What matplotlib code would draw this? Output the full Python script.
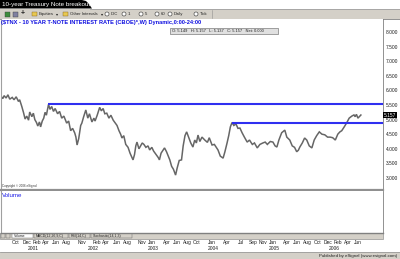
import matplotlib
matplotlib.use('Agg')
import matplotlib.pyplot as plt
import matplotlib.dates as mdates
from matplotlib.patches import Rectangle, Polygon, Circle
from matplotlib.transforms import blended_transform_factory
import pandas as pd

plt.rcParams['font.family'] = ['Liberation Sans', 'DejaVu Sans']

W, H = 400, 259

title = '10-year Treasury Note breakout'
symbol_line = '($TNX - 10 YEAR T-NOTE INTEREST RATE (CBOE)*,W) Dynamic,0:00-24:00'
ohlc_text = 'O: 5.149   H: 5.157   L: 5.137   C: 5.157   Net: 0.000'
last_value = 5.157

# weekly closes (approx.)
dates = ['2000-07-25', '2000-08-05', '2000-08-13', '2000-08-25', '2000-09-05', '2000-09-16',
         '2000-10-01', '2000-10-12', '2000-10-25', '2000-11-08', '2000-11-15', '2000-11-28',
         '2000-12-08', '2000-12-18', '2000-12-28', '2001-01-08', '2001-01-15', '2001-01-28',
         '2001-02-06', '2001-02-15', '2001-02-25', '2001-03-05', '2001-03-15', '2001-03-22',
         '2001-04-01', '2001-04-10', '2001-04-18', '2001-04-26', '2001-05-09', '2001-05-18',
         '2001-05-28', '2001-06-08', '2001-06-18', '2001-07-03', '2001-07-15', '2001-07-28',
         '2001-08-10', '2001-08-27', '2001-09-08', '2001-09-20', '2001-10-02', '2001-10-15',
         '2001-10-22', '2001-10-29', '2001-11-08', '2001-11-20', '2001-11-27', '2001-12-08',
         '2001-12-21', '2002-01-02', '2002-01-12', '2002-01-27', '2002-02-08', '2002-02-15',
         '2002-02-28', '2002-03-15', '2002-03-25', '2002-04-05', '2002-04-15', '2002-04-27',
         '2002-05-10', '2002-05-22', '2002-06-05', '2002-06-15', '2002-06-28', '2002-07-10',
         '2002-07-20', '2002-07-28', '2002-08-08', '2002-08-20', '2002-09-03', '2002-09-15',
         '2002-09-25', '2002-10-03', '2002-10-12', '2002-10-20', '2002-10-27', '2002-11-08',
         '2002-11-18', '2002-11-28', '2002-12-08', '2002-12-20', '2003-01-02', '2003-01-12',
         '2003-01-25', '2003-02-05', '2003-02-20', '2003-03-05', '2003-03-12', '2003-03-22',
         '2003-04-03', '2003-04-12', '2003-04-24', '2003-05-05', '2003-05-14', '2003-05-25',
         '2003-06-05', '2003-06-18', '2003-06-28', '2003-07-10', '2003-07-24', '2003-08-03',
         '2003-08-14', '2003-08-24', '2003-09-05', '2003-09-18', '2003-10-01', '2003-10-12',
         '2003-10-22', '2003-11-01', '2003-11-12', '2003-11-25', '2003-12-12', '2003-12-28',
         '2004-01-08', '2004-01-25', '2004-02-08', '2004-02-20', '2004-03-01', '2004-03-15',
         '2004-04-01', '2004-04-12', '2004-04-25', '2004-05-05', '2004-05-15', '2004-05-25',
         '2004-06-05', '2004-06-18', '2004-06-30', '2004-07-12', '2004-07-25', '2004-08-08',
         '2004-08-25', '2004-09-08', '2004-09-25', '2004-10-08', '2004-10-25', '2004-11-10',
         '2004-11-28', '2004-12-12', '2004-12-25', '2005-01-12', '2005-01-28', '2005-02-10',
         '2005-02-21', '2005-03-05', '2005-03-22', '2005-04-10', '2005-04-22', '2005-05-10',
         '2005-05-25', '2005-06-08', '2005-06-21', '2005-07-01', '2005-07-10', '2005-07-25',
         '2005-08-08', '2005-08-21', '2005-09-05', '2005-09-21', '2005-10-05', '2005-10-20',
         '2005-11-05', '2005-11-21', '2005-12-08', '2005-12-25', '2006-01-10', '2006-01-25',
         '2006-02-10', '2006-02-25', '2006-03-10', '2006-03-21', '2006-04-05', '2006-04-21',
         '2006-05-05', '2006-05-21', '2006-06-03', '2006-06-10', '2006-06-18', '2006-06-27',
         '2006-07-05', '2006-07-15']
rates = [5.80, 5.72, 5.82, 5.74, 5.85, 5.70,
         5.76, 5.68, 5.78, 5.62, 5.68, 5.45,
         5.25, 5.02, 5.12, 4.98, 5.26, 5.10,
         5.22, 5.00, 4.90, 4.78, 4.92, 4.75,
         4.95, 5.05, 5.25, 5.15, 5.52, 5.35,
         5.45, 5.28, 5.38, 5.20, 5.28, 5.05,
         5.12, 4.88, 4.95, 4.62, 4.70, 4.54,
         4.40, 4.13, 4.35, 4.80, 4.88, 5.10,
         5.33, 5.05, 5.20, 4.92, 5.05, 4.95,
         5.15, 5.42, 5.30, 5.38, 5.20, 5.22,
         5.05, 5.15, 4.98, 4.90, 4.80, 4.62,
         4.50, 4.37, 4.45, 4.15, 4.05, 3.85,
         3.72, 3.62, 3.80, 4.10, 4.23, 4.00,
         4.10, 4.20, 4.15, 4.05, 4.10, 3.96,
         4.05, 3.92, 3.80, 3.70, 3.62, 3.85,
         3.95, 4.03, 3.90, 3.75, 3.62, 3.40,
         3.30, 3.10, 3.35, 3.60, 3.62, 4.10,
         4.45, 4.58, 4.40, 4.20, 4.06, 4.30,
         4.20, 4.47, 4.25, 4.40, 4.30, 4.22,
         4.38, 4.13, 4.15, 4.05, 3.96, 3.75,
         3.68, 3.90, 4.20, 4.45, 4.75, 4.90,
         4.80, 4.85, 4.70, 4.71, 4.55, 4.40,
         4.23, 4.30, 4.15, 4.20, 4.03, 4.15,
         4.20, 4.23, 4.15, 4.25, 4.23, 4.10,
         4.06, 4.30, 4.55, 4.64, 4.40, 4.30,
         4.10, 4.05, 3.90, 3.95, 4.06, 4.20,
         4.37, 4.30, 4.10, 4.03, 4.30, 4.45,
         4.58, 4.50, 4.48, 4.40, 4.40, 4.38,
         4.30, 4.50, 4.58, 4.62, 4.75, 4.90,
         5.05, 5.12, 5.16, 5.10, 5.18, 5.05,
         5.10, 5.157]

upper_start = '2001-05-05'
upper_level = 5.52
lower_start = '2004-05-22'
lower_level = 4.90

x_left = '2000-07-25'
x_right = '2006-11-26'

month_ticks = ['2000-10-01', '2000-12-01', '2001-02-01', '2001-04-01', '2001-06-01', '2001-08-01',
               '2001-11-01', '2002-02-01', '2002-04-01', '2002-06-01', '2002-08-01', '2002-11-01',
               '2003-01-01', '2003-04-01', '2003-06-01', '2003-08-01', '2003-10-01', '2004-01-01',
               '2004-04-01', '2004-07-01', '2004-09-01', '2004-11-01', '2005-01-01', '2005-04-01',
               '2005-06-01', '2005-08-01', '2005-10-01', '2005-12-01', '2006-02-01', '2006-04-01',
               '2006-06-01']
month_labels = ['Oct', 'Dec', 'Feb', 'Apr', 'Jun', 'Aug', 'Nov', 'Feb', 'Apr', 'Jun', 'Aug', 'Nov',
                'Jan', 'Apr', 'Jun', 'Aug', 'Oct', 'Jan', 'Apr', 'Jul', 'Sep', 'Nov', 'Jan', 'Apr',
                'Jun', 'Aug', 'Oct', 'Dec', 'Feb', 'Apr', 'Jun']
year_ticks = ['2001-01-01', '2002-01-01', '2003-01-01', '2004-01-01', '2005-01-01', '2006-01-01']
year_labels = ['2001', '2002', '2003', '2004', '2005', '2006']
y_ticks = [3.0, 3.5, 4.0, 4.5, 5.0, 5.5, 6.0, 6.5, 7.0, 7.5, 8.0]
panel_tabs = ['Volume', 'MACD(12,26,9,C)', 'RSI(14,C)', 'Stochastic(14,1,3)']

UI_GREY = '#d4d0c8'
BLUE = '#2f2ff0'


def fr(x0, y0, x1, y1):
    return [x0 / W, 1 - y1 / H, (x1 - x0) / W, (y1 - y0) / H]


def pixel_axes(z):
    a = fig.add_axes([0, 0, 1, 1], zorder=z)
    a.set_xlim(0, W)
    a.set_ylim(H, 0)
    a.axis('off')
    a.patch.set_alpha(0)
    return a


fig = plt.figure(figsize=(4, 2.59), dpi=100)
fig.patch.set_facecolor('white')

# window chrome drawn in pixel coords
ui = pixel_axes(0)

ui.add_patch(Polygon([(0, 0), (82, 0), (86, 1), (89, 4), (92, 8.5), (0, 8.5)], closed=True,
                     facecolor='black', edgecolor='none'))
ui.text(1.5, 4.5, title, color='white', fontsize=4.5, va='center', ha='left')
ui.plot([90, 400], [8.5, 8.5], color='#a0a0a0', lw=0.6)
ui.add_patch(Rectangle((0, 9), 400, 9.5, facecolor=UI_GREY, edgecolor='none'))
ui.plot([0, 400], [18.5, 18.5], color='#808080', lw=0.6)

# toolbar
ui.add_patch(Rectangle((5, 11.5), 5, 5, facecolor='#3c8c3c', edgecolor='#404040', lw=0.3))
ui.add_patch(Rectangle((13, 11.5), 5, 5, facecolor='#8080a0', edgecolor='#404040', lw=0.3))
ui.text(23, 14, '+', fontsize=5, va='center', ha='center', color='#202020', weight='bold')
for fx, lab, arrow in [(32, 'Equities', 57), (63, 'Other Intervals', 102)]:
    ui.add_patch(Rectangle((fx, 12), 5, 4, facecolor='#e8c850', edgecolor='#806020', lw=0.3))
    ui.text(fx + 7, 14.2, lab, fontsize=3.1, va='center', ha='left', color='#202020')
    ui.text(arrow, 14.2, '\u25be', fontsize=3.0, va='center', ha='center', color='#202020')
for cx, lab in [(107, 'IDC'), (124, '1'), (141, '5'), (157, '60'), (170, 'Daily'), (196, 'Tick')]:
    ui.add_patch(Circle((cx, 14), 2.0, facecolor='white', edgecolor='#303030', lw=0.4))
    ui.text(cx + 4, 14.2, lab, fontsize=3.1, va='center', ha='left', color='#202020')
ui.plot([212, 212], [10, 18], color='#909090', lw=0.4)

# tabs strip
ui.add_patch(Rectangle((0, 232.5), 383, 6, facecolor=UI_GREY, edgecolor='#808080', lw=0.4))
ui.add_patch(Rectangle((1, 233.3), 4, 4.4, facecolor=UI_GREY, edgecolor='#606060', lw=0.3))
ui.add_patch(Rectangle((5.5, 233.3), 4, 4.4, facecolor=UI_GREY, edgecolor='#606060', lw=0.3))
tab_x = [12, 34, 69, 91, 133]
for i, lab in enumerate(panel_tabs):
    ui.add_patch(Rectangle((tab_x[i], 233), tab_x[i + 1] - tab_x[i] - 1, 5,
                           facecolor='white' if i == 0 else UI_GREY, edgecolor='#606060', lw=0.3))
    ui.text(tab_x[i] + 1.5, 235.6, lab, fontsize=2.5, va='center', ha='left', color='#202020')

# status bar
ui.add_patch(Rectangle((0, 252), 400, 7, facecolor=UI_GREY, edgecolor='none'))
ui.plot([0, 400], [252, 252], color='#909090', lw=0.5)
ui.text(397, 255.8, 'Published by eSignal (www.esignal.com)', fontsize=3.2, ha='right', va='center',
        color='#202020')

# price panel
dt = pd.to_datetime(dates)
ax = fig.add_axes(fr(1, 19, 383, 190), zorder=2)
ax.set_facecolor('white')
ax.plot(dt, rates, color='#666666', lw=1.1, solid_joinstyle='miter')
xr = mdates.date2num(pd.Timestamp(x_right))
ax.hlines(upper_level, mdates.date2num(pd.Timestamp(upper_start)), xr, color=BLUE, lw=1.5)
ax.hlines(lower_level, mdates.date2num(pd.Timestamp(lower_start)), xr, color=BLUE, lw=1.5)
ax.set_xlim(pd.Timestamp(x_left), pd.Timestamp(x_right))
ax.set_ylim(8 - 158 / 29.2, 8 + 13 / 29.2)
ax.yaxis.tick_right()
ax.set_yticks(y_ticks)
ax.set_yticklabels(['%.3f' % v for v in y_ticks])
ax.tick_params(axis='y', length=0, pad=2.2, labelsize=3.5, labelcolor='#202020')
ax.set_xticks([])
ax.spines['top'].set_visible(False)
ax.spines['left'].set_color('#a0a0a0')
ax.spines['left'].set_linewidth(0.8)
ax.spines['right'].set_color('#808080')
ax.spines['right'].set_linewidth(0.6)
ax.spines['bottom'].set_color('#909090')
ax.spines['bottom'].set_linewidth(1.6)
ax.text(1.003, last_value, '%.3f' % last_value,
        transform=blended_transform_factory(ax.transAxes, ax.transData),
        fontsize=3.5, color='white', ha='left', va='center',
        bbox=dict(boxstyle='square,pad=0.15', facecolor='black', edgecolor='none'))
ax.text(0.003, 0.01, 'Copyright \u00a9 2006 eSignal', transform=ax.transAxes, fontsize=2.2,
        color='#303030', ha='left', va='bottom')

# volume panel (empty)
vax = fig.add_axes(fr(1, 191, 383, 232.5), zorder=2, sharex=ax)
vax.set_facecolor('white')
vax.set_yticks([])
vax.tick_params(axis='x', length=0, labelbottom=False)
vax.spines['top'].set_visible(False)
vax.spines['left'].set_color('#a0a0a0')
vax.spines['right'].set_color('#808080')
vax.spines['right'].set_linewidth(0.6)
vax.spines['bottom'].set_color('#808080')
vax.spines['bottom'].set_linewidth(1.0)
vax.text(0.002, 0.88, 'Volume', transform=vax.transAxes, fontsize=4.4, color='#1a1ae8',
         ha='left', va='center')

# symbol line and OHLC box above the price panel
top = pixel_axes(3)
top.text(1, 22.8, symbol_line, fontsize=4.1, color='#1010e0', weight='bold', va='center', ha='left')
top.add_patch(Rectangle((170, 28), 108, 5.5, facecolor='#e0e0e0', edgecolor='#606060', lw=0.4))
top.text(172, 30.9, ohlc_text, fontsize=2.9, color='#202020', va='center', ha='left')

# date labels under the tab strip
tr = blended_transform_factory(ax.transData, fig.transFigure)
for d, lab in zip(month_ticks, month_labels):
    fig.text(mdates.date2num(pd.Timestamp(d)), 1 - 242.3 / H, lab, transform=tr, fontsize=3.5,
             ha='left', va='center', color='#202020')
for d, lab in zip(year_ticks, year_labels):
    fig.text(mdates.date2num(pd.Timestamp(d)), 1 - 248.8 / H, lab, transform=tr, fontsize=3.5,
             ha='left', va='center', color='#202020')

fig.savefig('out.png', dpi=100)
